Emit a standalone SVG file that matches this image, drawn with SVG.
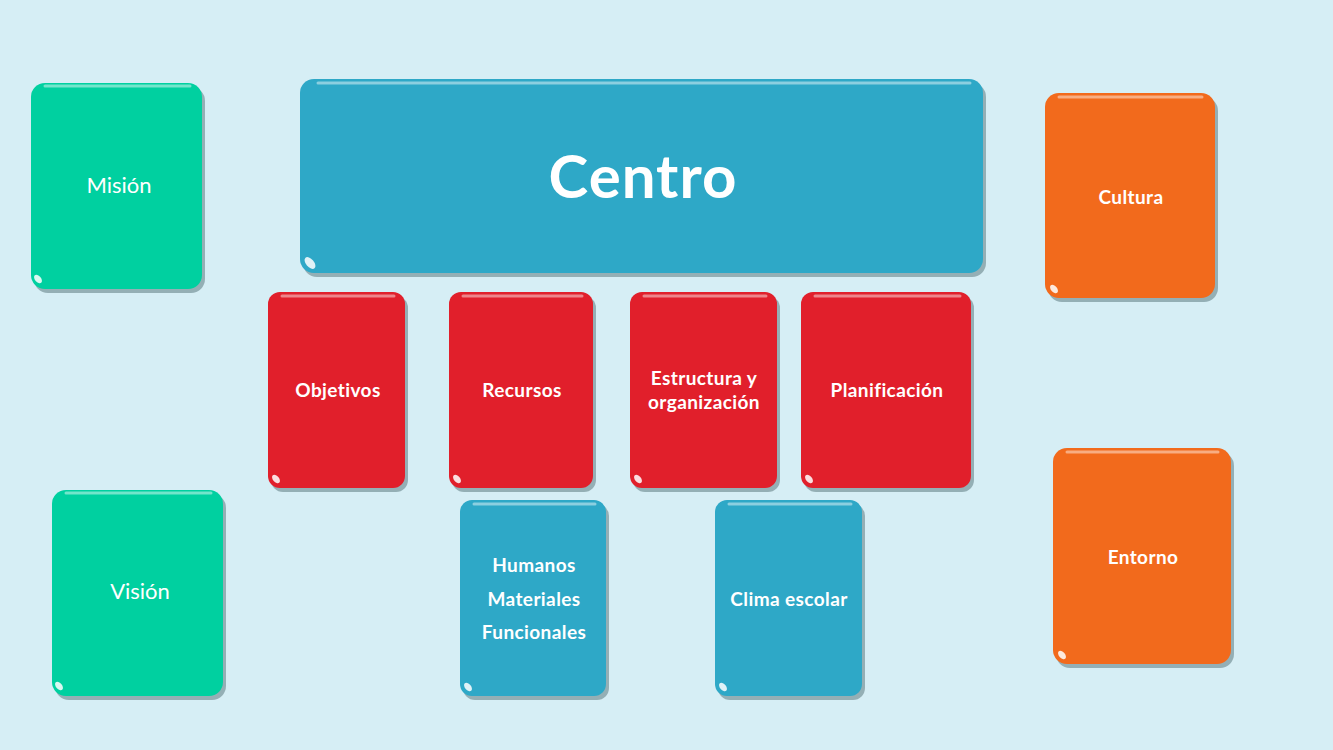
<svg xmlns="http://www.w3.org/2000/svg" width="1333" height="750" viewBox="0 0 1333 750">
<style>
.t{font-family:Lato,"Open Sans","Liberation Sans",sans-serif;fill:#fff;text-anchor:middle;dominant-baseline:central}
.b{font-weight:bold;font-size:19px;letter-spacing:0.4px}
.sh{fill:#1a3a40;opacity:.35}
.hl{fill:none;stroke:#ffffff;stroke-opacity:.45;stroke-width:3;stroke-linecap:round}
.spot{fill:#fff;opacity:.85}
.green{fill:#00d0a0}.blue{fill:#2ea8c7}.red{fill:#e11f2b}.orange{fill:#f26a1c}
</style>
<rect width="1333" height="750" fill="#d6eef5"/>
<g id="connectors"/>
<g id="mision">
<rect class="sh" x="34" y="87" width="171" height="206" rx="14"/>
<rect class="green" x="31" y="83" width="171" height="206" rx="14"/>
<line class="hl" x1="45" y1="86" x2="190" y2="86"/>
<ellipse class="spot" cx="38" cy="279" rx="3" ry="5" transform="rotate(-40 38 279)"/>
<text class="t" x="119" y="184" font-size="22">Misión</text>
</g>
<g id="vision">
<rect class="sh" x="55" y="494" width="171" height="206" rx="14"/>
<rect class="green" x="52" y="490" width="171" height="206" rx="14"/>
<line class="hl" x1="66" y1="493" x2="211" y2="493"/>
<ellipse class="spot" cx="59" cy="686" rx="3" ry="5" transform="rotate(-40 59 686)"/>
<text class="t" x="140" y="590" font-size="22">Visión</text>
</g>
<g id="centro">
<rect class="sh" x="303" y="83" width="683" height="194" rx="14"/>
<rect class="blue" x="300" y="79" width="683" height="194" rx="14"/>
<line class="hl" x1="318" y1="83" x2="970" y2="83"/>
<ellipse class="spot" cx="310" cy="263" rx="4" ry="7" transform="rotate(-40 310 263)"/>
<text class="t" x="643" y="175" font-size="60" font-weight="bold" letter-spacing="1">Centro</text>
</g>
<g id="cultura">
<rect class="sh" x="1048" y="97" width="170" height="205" rx="14"/>
<rect class="orange" x="1045" y="93" width="170" height="205" rx="14"/>
<line class="hl" x1="1059" y1="97" x2="1202" y2="97"/>
<ellipse class="spot" cx="1054" cy="289" rx="3" ry="5" transform="rotate(-40 1054 289)"/>
<text class="t b" x="1131" y="196">Cultura</text>
</g>
<g id="entorno">
<rect class="sh" x="1056" y="452" width="178" height="216" rx="14"/>
<rect class="orange" x="1053" y="448" width="178" height="216" rx="14"/>
<line class="hl" x1="1067" y1="452" x2="1218" y2="452"/>
<ellipse class="spot" cx="1062" cy="655" rx="3" ry="5" transform="rotate(-40 1062 655)"/>
<text class="t b" x="1143" y="556">Entorno</text>
</g>
<g id="objetivos">
<rect class="sh" x="271" y="296" width="137" height="196" rx="12"/>
<rect class="red" x="268" y="292" width="137" height="196" rx="12"/>
<line class="hl" x1="282" y1="296" x2="394" y2="296"/>
<ellipse class="spot" cx="276" cy="479" rx="3" ry="5" transform="rotate(-40 276 479)"/>
<text class="t b" x="338" y="389">Objetivos</text>
</g>
<g id="recursos">
<rect class="sh" x="452" y="296" width="144" height="196" rx="12"/>
<rect class="red" x="449" y="292" width="144" height="196" rx="12"/>
<line class="hl" x1="463" y1="296" x2="582" y2="296"/>
<ellipse class="spot" cx="457" cy="479" rx="3" ry="5" transform="rotate(-40 457 479)"/>
<text class="t b" x="522" y="389">Recursos</text>
</g>
<g id="estructura">
<rect class="sh" x="633" y="296" width="147" height="196" rx="12"/>
<rect class="red" x="630" y="292" width="147" height="196" rx="12"/>
<line class="hl" x1="644" y1="296" x2="766" y2="296"/>
<ellipse class="spot" cx="638" cy="479" rx="3" ry="5" transform="rotate(-40 638 479)"/>
<text class="t b" x="704" y="377">Estructura y</text>
<text class="t b" x="704" y="401">organización</text>
</g>
<g id="planificacion">
<rect class="sh" x="804" y="296" width="170" height="196" rx="12"/>
<rect class="red" x="801" y="292" width="170" height="196" rx="12"/>
<line class="hl" x1="815" y1="296" x2="960" y2="296"/>
<ellipse class="spot" cx="809" cy="479" rx="3" ry="5" transform="rotate(-40 809 479)"/>
<text class="t b" x="887" y="389">Planificación</text>
</g>
<g id="humanos">
<rect class="sh" x="463" y="504" width="146" height="196" rx="12"/>
<rect class="blue" x="460" y="500" width="146" height="196" rx="12"/>
<line class="hl" x1="474" y1="504" x2="595" y2="504"/>
<ellipse class="spot" cx="468" cy="687" rx="3" ry="5" transform="rotate(-40 468 687)"/>
<text class="t b" x="534" y="564">Humanos</text>
<text class="t b" x="534" y="598">Materiales</text>
<text class="t b" x="534" y="631">Funcionales</text>
</g>
<g id="clima">
<rect class="sh" x="718" y="504" width="147" height="196" rx="12"/>
<rect class="blue" x="715" y="500" width="147" height="196" rx="12"/>
<line class="hl" x1="729" y1="504" x2="851" y2="504"/>
<ellipse class="spot" cx="723" cy="687" rx="3" ry="5" transform="rotate(-40 723 687)"/>
<text class="t b" x="789" y="598">Clima escolar</text>
</g>
</svg>
